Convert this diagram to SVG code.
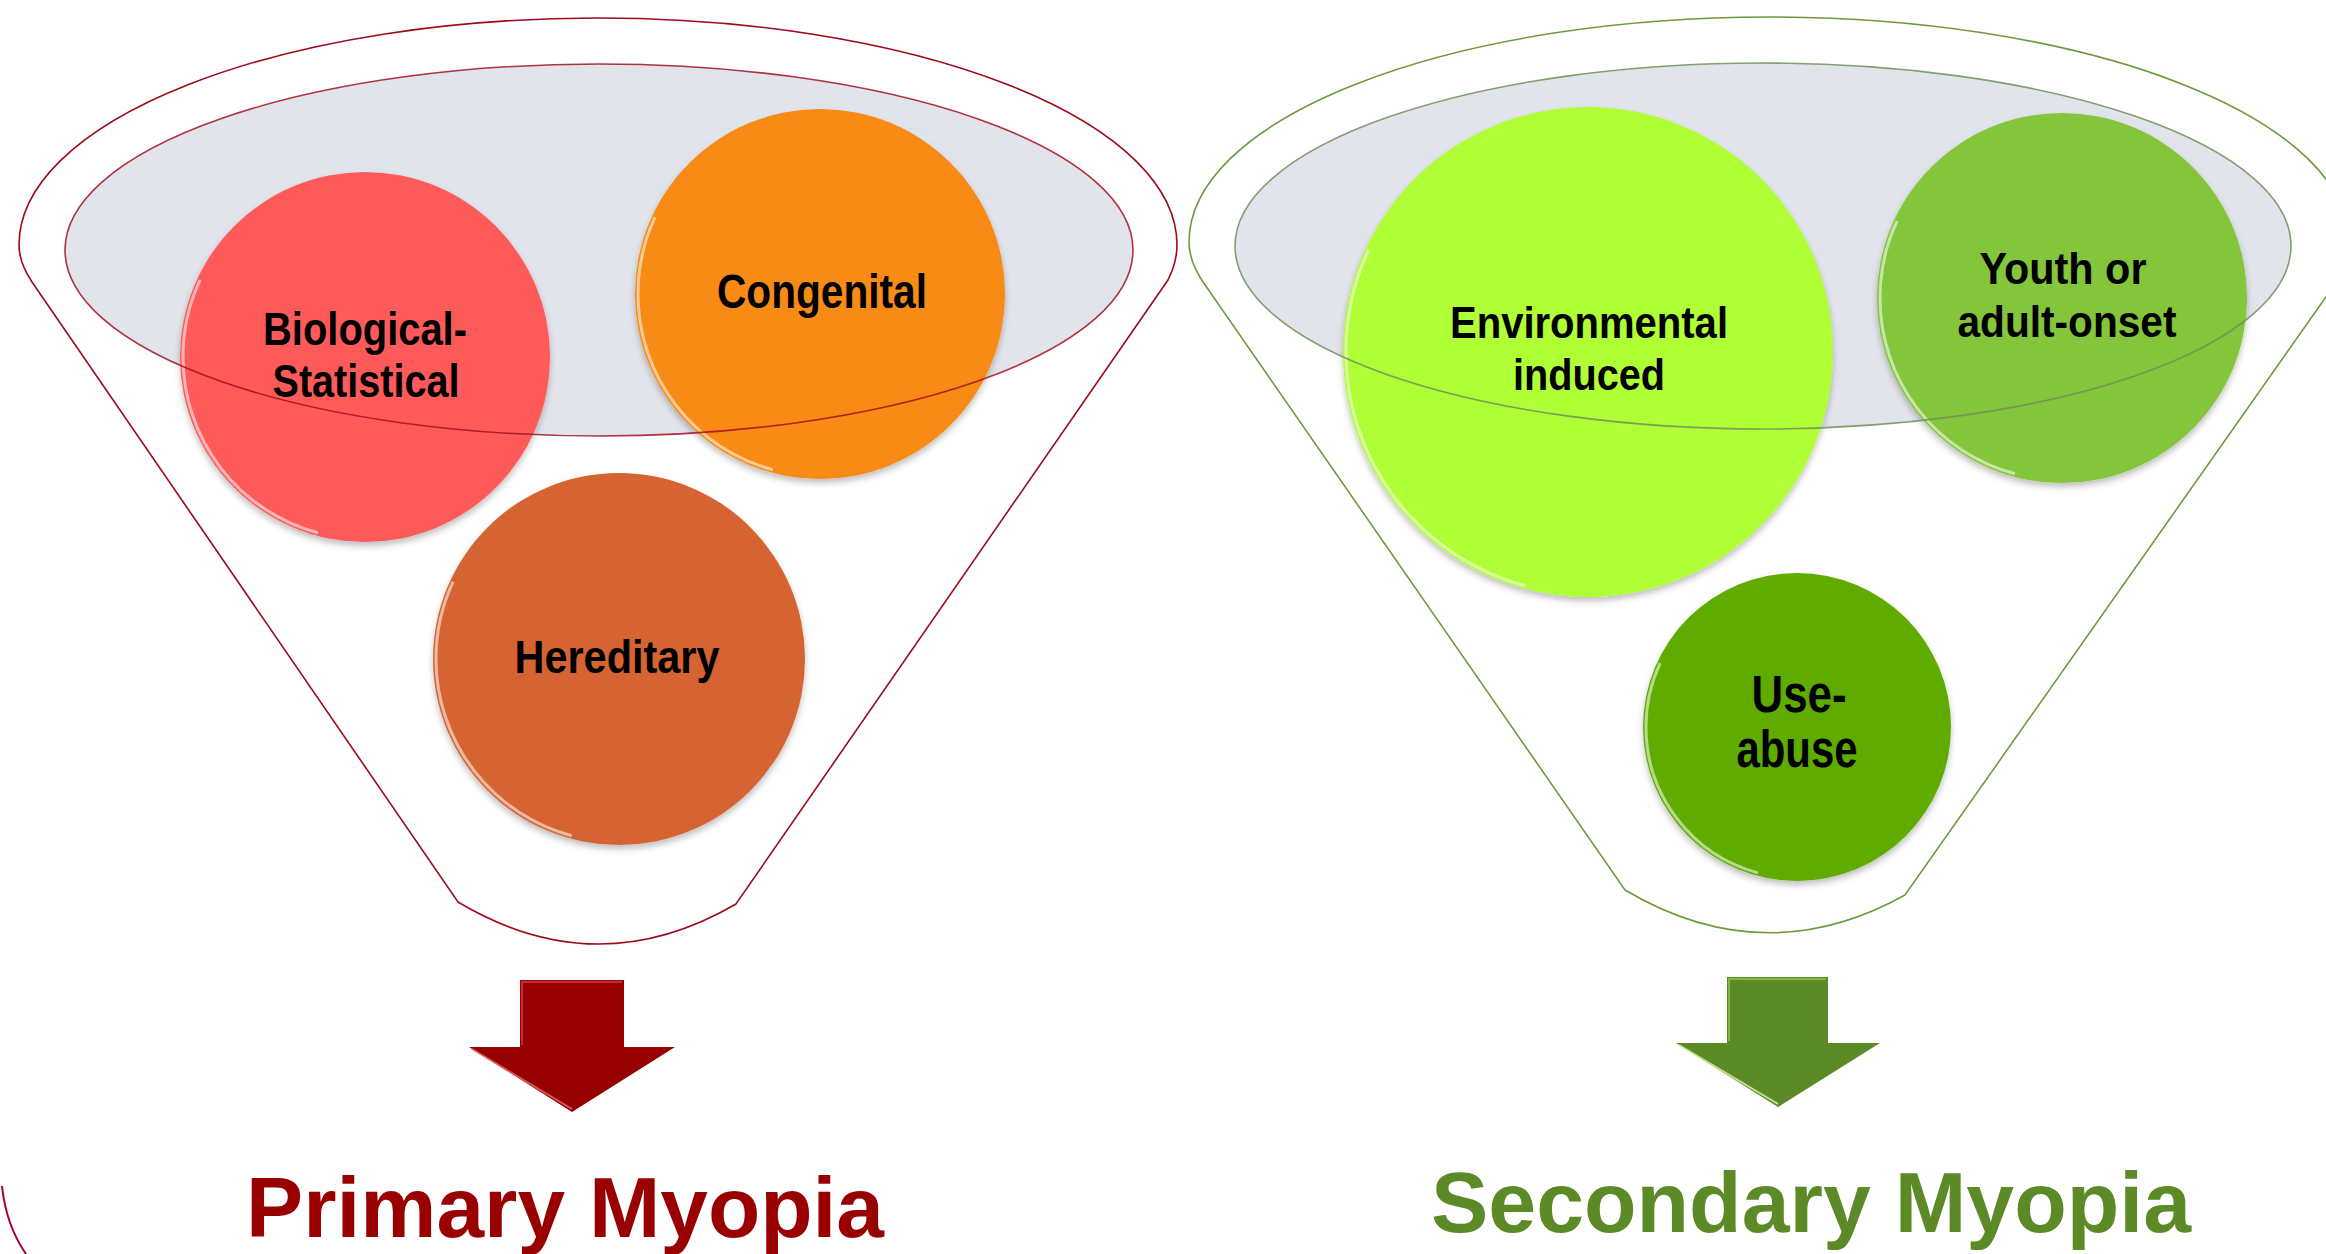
<svg xmlns="http://www.w3.org/2000/svg" width="2326" height="1254" viewBox="0 0 2326 1254">
<style>
.lbl{font-family:"Liberation Sans",Arial,sans-serif;font-weight:bold;fill:#000;text-anchor:middle}
.title{font-family:"Liberation Sans",Arial,sans-serif;font-weight:bold;font-size:86px}
.funR{fill:#fff;stroke:#9c0a1c;stroke-width:1.6}
.funG{fill:#fff;stroke:#6e9a3c;stroke-width:1.6}
.bowl{fill:#e2e4eb;stroke:none}
.rimR{fill:none;stroke:#a3101f;stroke-width:1.6;stroke-opacity:0.85}
.rimG{fill:none;stroke:#6f8f5a;stroke-width:1.6;stroke-opacity:0.85}
.hl{fill:none;stroke:#fff;stroke-width:3;stroke-opacity:0.55;stroke-dasharray:0 105 100 360}
</style>
<defs>
<filter id="sh" x="-10%" y="-10%" width="120%" height="125%">
<feDropShadow dx="0" dy="4" stdDeviation="3" flood-color="#000" flood-opacity="0.25"/>
</filter>
</defs>
<rect width="2326" height="1254" fill="#fff"/>

<!-- Left funnel -->
<g id="funnel-primary">
<path class="funR" d="M 19 245 A 579 227 0 0 1 1177 245 C 1177 258 1174 268 1168 280 L 736 904 Q 597 985 458 902 L 32 282 C 24 270 19 258 19 245 Z"/>
<ellipse class="bowl" cx="599" cy="250" rx="534" ry="186"/>
</g>
<g id="node-biological" filter="url(#sh)">
<circle cx="365" cy="357" r="185" fill="#fe5a5a"/>
<circle class="hl" cx="365" cy="357" r="182" pathLength="360"/>
</g>
<g id="node-congenital" filter="url(#sh)">
<circle cx="820" cy="294" r="185" fill="#f88a12"/>
<circle class="hl" cx="820" cy="294" r="182" pathLength="360"/>
</g>
<g id="node-hereditary" filter="url(#sh)">
<circle cx="619" cy="659" r="186" fill="#d66433"/>
<circle class="hl" cx="619" cy="659" r="183" pathLength="360"/>
</g>
<ellipse class="rimR" cx="599" cy="250" rx="534" ry="186"/>
<text class="lbl" font-size="47" x="365" y="345" textLength="204" lengthAdjust="spacingAndGlyphs">Biological-</text>
<text class="lbl" font-size="47" x="366" y="397" textLength="187" lengthAdjust="spacingAndGlyphs">Statistical</text>
<text class="lbl" font-size="48" x="822" y="308" textLength="210" lengthAdjust="spacingAndGlyphs">Congenital</text>
<text class="lbl" font-size="46" x="617" y="673" textLength="205" lengthAdjust="spacingAndGlyphs">Hereditary</text>

<!-- Right funnel -->
<g id="funnel-secondary">
<path class="funG" d="M 1189 242 A 580 225 0 0 1 2349 242 C 2349 255 2346 265 2340 277 L 1905 895 Q 1765 973 1625 890 L 1203 282 C 1195 270 1189 257 1189 242 Z"/>
<ellipse class="bowl" cx="1763" cy="246" rx="528" ry="183"/>
</g>
<g id="node-environmental" filter="url(#sh)">
<circle cx="1588" cy="352" r="245" fill="#b0fe34"/>
<circle class="hl" cx="1588" cy="352" r="242" pathLength="360"/>
</g>
<g id="node-youth" filter="url(#sh)">
<circle cx="2062" cy="298" r="185" fill="#83c53a"/>
<circle class="hl" cx="2062" cy="298" r="182" pathLength="360"/>
</g>
<g id="node-useabuse" filter="url(#sh)">
<circle cx="1797" cy="727" r="154" fill="#5fab00"/>
<circle class="hl" cx="1797" cy="727" r="151" pathLength="360"/>
</g>
<ellipse class="rimG" cx="1763" cy="246" rx="528" ry="183"/>
<text class="lbl" font-size="45" x="1589" y="338" textLength="278" lengthAdjust="spacingAndGlyphs">Environmental</text>
<text class="lbl" font-size="45" x="1589" y="390" textLength="152" lengthAdjust="spacingAndGlyphs">induced</text>
<text class="lbl" font-size="45" x="2063" y="284" textLength="167" lengthAdjust="spacingAndGlyphs">Youth or</text>
<text class="lbl" font-size="45" x="2067" y="337" textLength="219" lengthAdjust="spacingAndGlyphs">adult-onset</text>
<text class="lbl" font-size="51" x="1799" y="712" textLength="95" lengthAdjust="spacingAndGlyphs">Use-</text>
<text class="lbl" font-size="51" x="1797" y="767" textLength="121" lengthAdjust="spacingAndGlyphs">abuse</text>

<!-- Arrows -->
<g id="connectors">
<g id="arrow-primary">
<polygon points="520,980 624,980 624,1047 675,1047 572,1112 469,1047 520,1047" fill="#960000"/>
<polyline points="472,1049 572,1109" fill="none" stroke="#e86a6a" stroke-width="2" stroke-opacity="0.8"/>
<polyline points="522,1045 522,982 622,982" fill="none" stroke="#d04040" stroke-width="2" stroke-opacity="0.7"/>
</g>
<g id="arrow-secondary">
<polygon points="1727,977 1828,977 1828,1043 1880,1043 1778,1107 1676,1043 1727,1043" fill="#5b8a27"/>
<polyline points="1679,1045 1778,1104" fill="none" stroke="#cdeaa0" stroke-width="2" stroke-opacity="0.9"/>
<polyline points="1729,1041 1729,979 1826,979" fill="none" stroke="#8cc050" stroke-width="2" stroke-opacity="0.8"/>
</g>
</g>

<text id="title-primary" class="title" x="246" y="1237" fill="#990000" textLength="638" lengthAdjust="spacingAndGlyphs">Primary Myopia</text>
<text id="title-secondary" class="title" x="1431" y="1232" fill="#5c8a27" textLength="760" lengthAdjust="spacingAndGlyphs">Secondary Myopia</text>

<path d="M 2 1186 Q 6 1225 26 1254" fill="none" stroke="#a0002a" stroke-width="2"/>
</svg>
